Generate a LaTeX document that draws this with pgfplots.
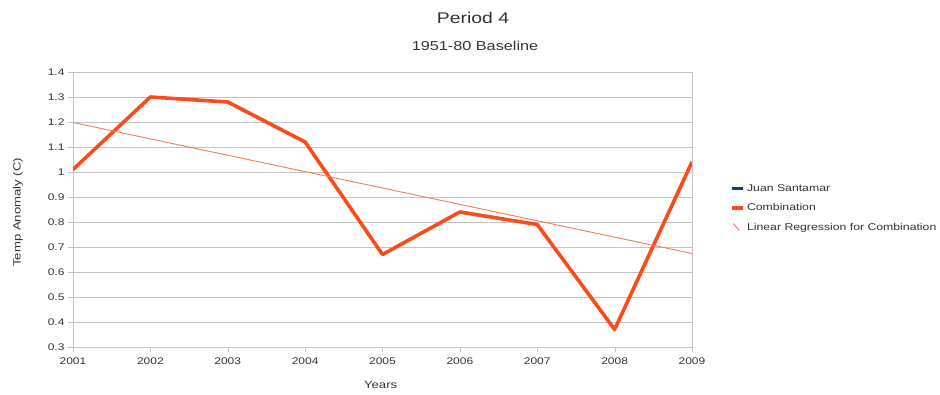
\documentclass[border=0pt]{standalone}
\usepackage{fontspec}
\setmainfont[FakeStretch=1.25]{Liberation Sans}
\usepackage{pgfplots}
\pgfplotsset{compat=1.18}
\definecolor{combo}{HTML}{F84C1E}
\definecolor{juan}{HTML}{004586}
\definecolor{gridc}{HTML}{C4C4C4}
\definecolor{txt}{HTML}{333333}
\pgfplotsset{
    regimage/.style={legend image code/.code={\draw[##1] (1pt,4pt) -- (7pt,-3pt);}},
}

\begin{document}
\begin{tikzpicture}[x=1pt,y=1pt]
\useasboundingbox (0,0) rectangle (940,394);
\node[font=\fontsize{15.5}{17}\selectfont, text=txt] at (473,376) {Period 4};
\node[font=\fontsize{13}{15}\selectfont, text=txt] at (475,348) {1951-80 Baseline};
\begin{axis}[
    at={(73pt,47pt)}, anchor=south west,
    scale only axis, width=619pt, height=275pt,
    xmin=2001, xmax=2009,
    ymin=0.3, ymax=1.4,
    xtick={2001,2002,2003,2004,2005,2006,2007,2008,2009},
    ytick={0.3,0.4,0.5,0.6,0.7,0.8,0.9,1,1.1,1.2,1.3,1.4},
    xticklabel style={/pgf/number format/1000 sep={}, yshift=-2pt},
    /pgf/number format/assume math mode=true,
    ticklabel style={font=\fontsize{9.6}{11}\selectfont, text=txt},
    tick align=outside, major tick length=5pt,
    xtick pos=bottom, ytick pos=left,
    tick style={gridc},
    axis line style={gridc},
    ymajorgrids=true,
    grid style={gridc, line width=0.8pt},
    xlabel={Years}, ylabel={Temp Anomaly (C)},
    xlabel style={at={(axis description cs:0.497,-0.138)}, anchor=center},
    ylabel style={at={(axis description cs:-0.089,0.49)}, anchor=center},
    label style={font=\fontsize{10.5}{12}\selectfont, text=txt},
    legend style={at={(1.057,0.607)}, anchor=north west, draw=none,
        font=\fontsize{9.8}{11}\selectfont, text=txt, row sep=7pt,
        legend cell align=left},
    legend image code/.code={\draw[#1] (0pt,0pt) -- (11pt,0pt);},
]
\addlegendimage{juan, line width=3pt}
\addlegendentry{Juan Santamar}

\addplot[combo, line width=3.6pt, line join=round] coordinates {
    (2001,1.01) (2002,1.30) (2003,1.28) (2004,1.12) (2005,0.67)
    (2006,0.84) (2007,0.79) (2008,0.37) (2009,1.04)
};
\addlegendentry{Combination}

\addplot[combo!75, line width=0.9pt, regimage] coordinates {
    (2001,1.198) (2009,0.674)
};
\addlegendentry{Linear Regression for Combination}
\end{axis}
\end{tikzpicture}
\end{document}
